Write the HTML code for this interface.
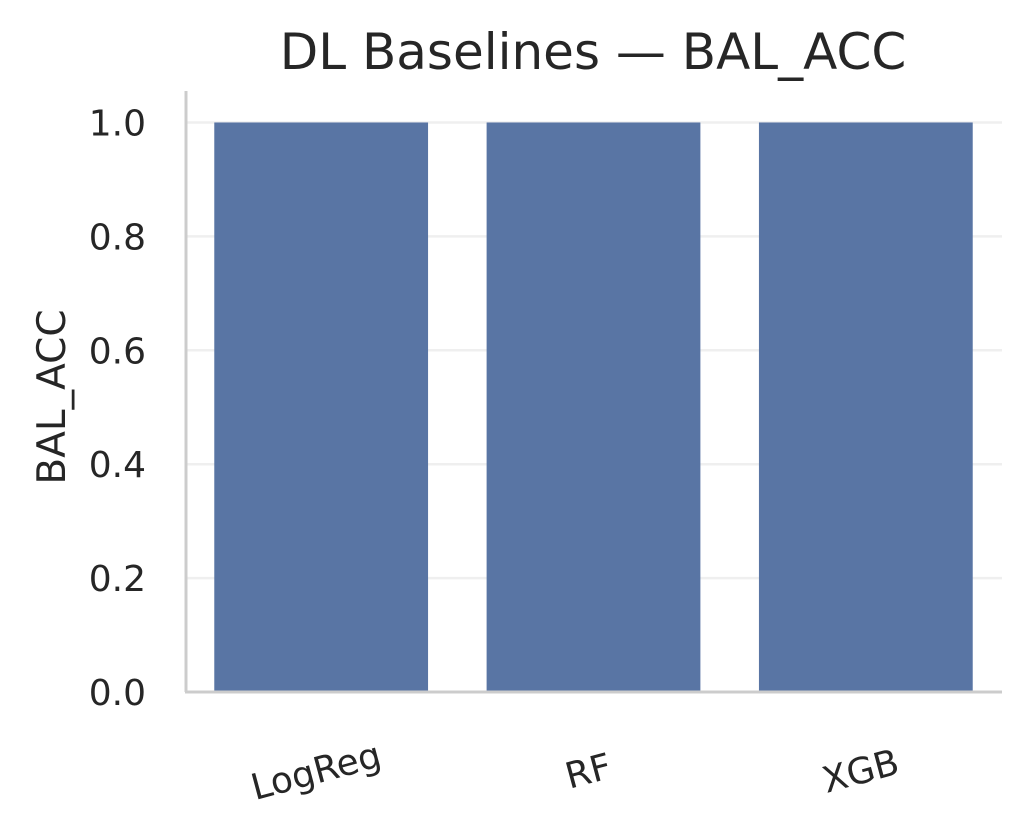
<!DOCTYPE html>
<html><head><meta charset="utf-8"><style>
html,body{margin:0;padding:0;background:#fff;}
svg{display:block;font-family:"DejaVu Sans","Liberation Sans",sans-serif;}
</style></head><body>
<svg id="chart" width="1030" height="833" viewBox="0 0 1030 833" xmlns="http://www.w3.org/2000/svg">
<rect width="1030" height="833" fill="#fff"/>
<text x="593" y="69" text-anchor="middle" font-size="50" fill="#262626">DL Baselines — BAL_ACC</text>
<text transform="translate(65,397) rotate(-90)" text-anchor="middle" font-size="39" fill="#262626">BAL_ACC</text>
<g id="grid"></g><g id="bars"></g><g id="yticks"></g><g id="xticks"></g>
<line x1="186" y1="91" x2="186" y2="692" stroke="#cccccc" stroke-width="3"/>
<line x1="185" y1="692" x2="1002" y2="692" stroke="#cccccc" stroke-width="3"/>
</svg>
<script>
const categories = ["LogReg","RF","XGB"];
const values = [1.0, 1.0, 1.0];
const yTicks = [0.0,0.2,0.4,0.6,0.8,1.0];
const yTickLabels = ["0.0","0.2","0.4","0.6","0.8","1.0"];
const NS="http://www.w3.org/2000/svg";
const x0=185,x1=1002,y0=692,yTop=94;
const yMax=1.05;
function yScale(v){return y0-(v/yMax)*(y0-yTop);}
function xScale(i){const w=(x1-x0)/categories.length;return x0+w*(i+0.5);}
const band=(x1-x0)/categories.length, bw=band*0.785;
const grid=document.getElementById('grid'),bars=document.getElementById('bars'),yt=document.getElementById('yticks'),xt=document.getElementById('xticks');
yTicks.forEach((t,i)=>{
  const y=yScale(t);
  const l=document.createElementNS(NS,'line');
  
  
  l.setAttribute('x1',x0);l.setAttribute('x2',x1);l.setAttribute('y1',y);l.setAttribute('y2',y);
  l.setAttribute('stroke','#efefef');l.setAttribute('stroke-width','2.5');
  grid.appendChild(l);
  const tx=document.createElementNS(NS,'text');
  
  
  tx.setAttribute('x',146);tx.setAttribute('y',y+13);tx.setAttribute('text-anchor','end');
  tx.setAttribute('font-size','36');tx.setAttribute('fill','#262626');
  tx.textContent=yTickLabels[i];yt.appendChild(tx);
});
categories.forEach((c,i)=>{
  const cx=xScale(i);
  const r=document.createElementNS(NS,'rect');
  
  
  r.setAttribute('x',cx-bw/2);r.setAttribute('width',bw);
  r.setAttribute('y',yScale(values[i]));r.setAttribute('height',y0-yScale(values[i]));
  r.setAttribute('fill','#5975a4');
  bars.appendChild(r);
  const tx=document.createElementNS(NS,'text');
  
  
  tx.setAttribute('transform','translate('+(cx-2)+',783) rotate(-15)');
  tx.setAttribute('text-anchor','middle');
  tx.setAttribute('font-size','36');tx.setAttribute('fill','#262626');
  tx.textContent=c;xt.appendChild(tx);
});
</script>
</body></html>
